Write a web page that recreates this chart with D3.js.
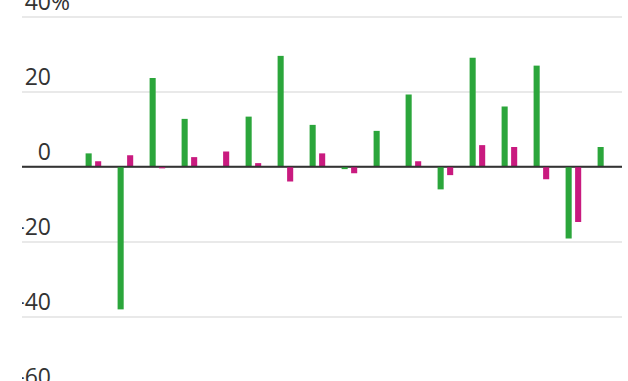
<!DOCTYPE html>
<html lang="en">
<head>
    <meta charset="UTF-8">
    <script src="https://cdn.jsdelivr.net/npm/d3@7"></script>
    <title>Change chart</title>
    <style>
        body {
            margin: 0;
            background: white;
            overflow: hidden;
        }
        .tick text {
            font-family: "Open Sans", sans-serif;
            font-size: 23px;
            fill: #333;
        }
    </style>
</head>
<body>
    <div id="chart"></div>
    <script>
        // values in %, one pair per category
        const categories = ["1", "2", "3", "4", "5", "6", "7", "8", "9", "10", "11", "12", "13", "14", "15", "16", "17"];
        const series = ["green", "magenta"];
        const greenValues = [3.5, -38.1, 23.6, 12.7, 0, 13.3, 29.5, 11.1, -0.7, 9.5, 19.2, -6.1, 29.0, 16.0, 26.9, -19.2, 5.2];
        const magentaValues = [1.4, 3.0, -0.5, 2.5, 4.0, 0.9, -4.0, 3.5, -1.8, 0, 1.4, -2.3, 5.7, 5.2, -3.4, -14.8, 0];
        const yTicks = [40, 20, 0, -20, -40, -60];

        const width = 628, height = 381;
        const colors = { green: "#2ba63b", magenta: "#c91a7f" };

        const svg = d3.select("#chart").append("svg")
            .attr("width", width)
            .attr("height", height);

        // the original is clipped just right of x=22
        svg.append("clipPath").attr("id", "clip")
            .append("rect").attr("x", 22).attr("y", 0).attr("width", width - 22).attr("height", height);

        const g = svg.append("g").attr("clip-path", "url(#clip)");

        const y = d3.scaleLinear().domain([-60, 40]).range([391.5, 16.5]);
        const x0 = d3.scaleBand().domain(categories).range([77, 621]);
        const x1 = d3.scaleBand().domain(series).range([8.6, 24.2]).paddingInner(0.36);

        // gridlines + labels
        const yAxis = d3.axisLeft(y)
            .tickValues(yTicks)
            .tickSize(-600)
            .tickFormat((d, i) => i === 0 ? d + "%" : d3.format("d")(d).replace("−", "-"));

        const axisG = g.append("g")
            .attr("transform", "translate(22,0)")
            .call(yAxis);
        axisG.select(".domain").remove();
        axisG.selectAll(".tick line")
            .attr("stroke", d => d === 0 ? "#333" : "#e2e2e2")
            .attr("stroke-width", d => d === 0 ? 1.6 : 1.5);
        axisG.selectAll(".tick text")
            .attr("text-anchor", "start")
            .attr("x", d => 51 - 22)
            .attr("dy", null)
            .attr("y", -7)
            .each(function (d, i) {
                // right-align the number part at x=51, let "%" hang
                const t = d3.select(this);
                const num = String(d);
                const w = this.getComputedTextLength();
                const tmp = t.text();
                t.text(num);
                const wn = this.getComputedTextLength();
                t.text(tmp);
                t.attr("x", 29 - wn);
            });

        const rows = categories.map((c, i) => ({ cat: c, green: greenValues[i], magenta: magentaValues[i] }));

        const groups = g.append("g").selectAll("g")
            .data(rows)
            .enter().append("g")
            .attr("transform", d => `translate(${x0(d.cat)},0)`);

        groups.selectAll("rect")
            .data(d => series.map(s => ({ key: s, value: d[s] })))
            .enter().append("rect")
            .attr("x", d => x1(d.key))
            .attr("width", x1.bandwidth())
            .attr("y", d => y(Math.max(0, d.value)))
            .attr("height", d => Math.abs(y(d.value) - y(0)))
            .attr("fill", d => colors[d.key]);

        // zero line on top of bars
        g.append("line")
            .attr("x1", 22).attr("x2", 622)
            .attr("y1", y(0)).attr("y2", y(0))
            .attr("stroke", "#333")
            .attr("stroke-width", 1.6);
    </script>
</body>
</html>
